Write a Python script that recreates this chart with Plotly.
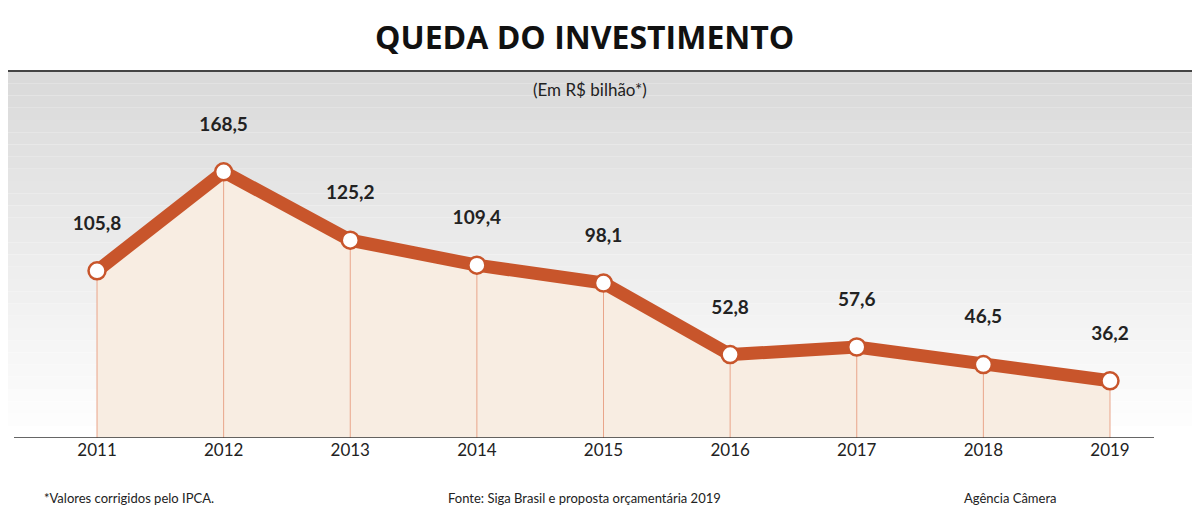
import plotly.graph_objects as go

anos = [2011, 2012, 2013, 2014, 2015, 2016, 2017, 2018, 2019]
valores = [105.8, 168.5, 125.2, 109.4, 98.1, 52.8, 57.6, 46.5, 36.2]
rotulos = ["<b>" + f"{v:.1f}".replace(".", ",") + "</b><br> " for v in valores]

fig = go.Figure()

# fundo em degrade (cinza -> branco)
n = 30
for i in range(n):
    g = int(218 + (255 - 218) * i / (n - 1))
    fig.add_shape(type="rect", xref="paper", yref="paper",
                  x0=0, x1=1, y0=1 - (i + 1) / n, y1=1 - i / n,
                  fillcolor=f"rgb({g},{g},{g})", line_width=0, layer="below")

# area sob a linha
fig.add_trace(go.Scatter(x=anos, y=valores, fill="tozeroy", mode="none",
                         fillcolor="#f8ede2", hoverinfo="skip"))

# linhas verticais
for a, v in zip(anos, valores):
    fig.add_trace(go.Scatter(x=[a, a], y=[0, v], mode="lines",
                             line=dict(color="#e9a58a", width=1), hoverinfo="skip"))

fig.add_trace(go.Scatter(x=anos, y=valores, mode="lines+markers+text",
                         line=dict(color="#c8552b", width=13),
                         marker=dict(size=17, color="white", line=dict(color="#c8552b", width=2.5)),
                         text=rotulos, textposition="top center",
                         textfont=dict(size=19, color="#222", family="Lato")))

fig.update_layout(
    width=1200, height=525, showlegend=False,
    margin=dict(l=0, r=0, t=63, b=95),
    paper_bgcolor="white", plot_bgcolor="rgba(0,0,0,0)",
    font=dict(family="Lato", color="#222"),
    xaxis=dict(range=[2010.297, 2019.774], tickvals=anos, showgrid=False,
               zeroline=False, showline=False, ticks="", tickfont=dict(size=17)),
    yaxis=dict(range=[0, 232.3], visible=False),
)

# linha do eixo e linha sob o titulo
fig.add_shape(type="line", xref="paper", yref="y", x0=0.005, x1=0.955, y0=0, y1=0,
              line=dict(color="#333", width=1.5))
fig.add_shape(type="line", xref="paper", yref="paper", x0=0, x1=1, y0=1, y1=1,
              line=dict(color="#444", width=2))

fig.add_annotation(text="<b>QUEDA DO INVESTIMENTO</b>", xref="paper", yref="paper",
                   x=0.48, y=1.03, yanchor="bottom", showarrow=False,
                   font=dict(size=32, family="Open Sans", color="#111"))
fig.add_annotation(text="(Em R$ bilhão*)", xref="paper", yref="paper", x=0.485, y=0.985,
                   yanchor="top", showarrow=False, font=dict(size=17))

rodape = [("*Valores corrigidos pelo IPCA.", 0.028, "left"),
          ("Fonte: Siga Brasil e proposta orçamentária 2019", 0.365, "left"),
          ("Agência Câmera", 0.795, "left")]
for t, x, al in rodape:
    fig.add_annotation(text=t, xref="paper", yref="paper", x=x, y=-0.19,
                       xanchor=al, showarrow=False, font=dict(size=13))

fig.write_html("out.html")
